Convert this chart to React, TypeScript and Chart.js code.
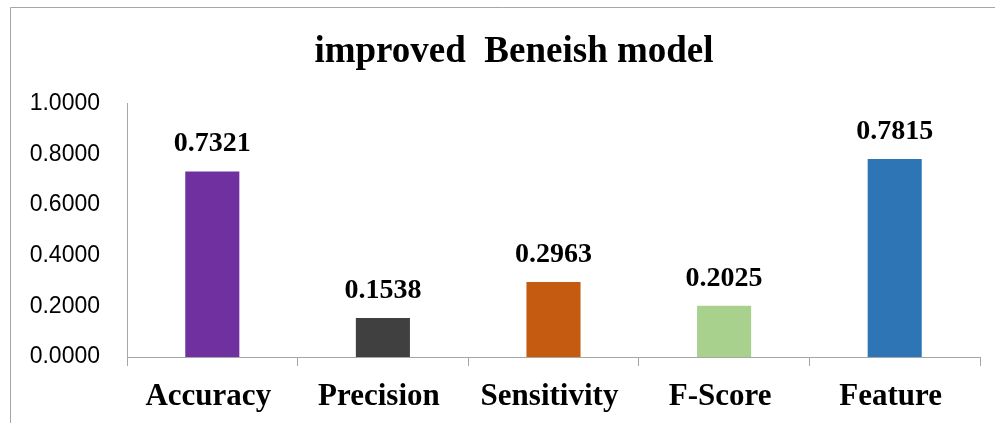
import React, { useEffect, useRef } from "react";
import { Chart, registerables } from "chart.js";

Chart.register(...registerables);

const categories = ["Accuracy", "Precision", "Sensitivity", "F-Score", "Feature"];
const values = [0.7321, 0.1538, 0.2963, 0.2025, 0.7815];
const barColors = ["#7030A0", "#404040", "#C55A11", "#A9D18E", "#2E75B6"];
const titleText = "improved  Beneish model";
const yTickMin = 0;
const yTickMax = 1;
const yTickStep = 0.2;

const SERIF = "'Liberation Serif', 'Times New Roman', serif";
const SANS = "'Liberation Sans', Arial, sans-serif";
const GRAY = "#A6A6A6";

const framePlugin = {
  id: "frame",
  beforeDraw(chart: any) {
    const ctx = chart.ctx;
    ctx.save();
    ctx.fillStyle = "#ffffff";
    ctx.fillRect(0, 0, chart.width, chart.height);
    ctx.strokeStyle = GRAY;
    ctx.lineWidth = 1;
    ctx.beginPath();
    ctx.moveTo(10.5, chart.height);
    ctx.lineTo(10.5, 7.5);
    ctx.lineTo(chart.width, 7.5);
    ctx.stroke();
    ctx.fillStyle = "#000";
    ctx.font = `bold 37px ${SERIF}`;
    ctx.textAlign = "center";
    ctx.textBaseline = "alphabetic";
    ctx.fillText(titleText, 514, 62);
    ctx.restore();
  },
};

const labelPlugin = {
  id: "valueLabels",
  afterDatasetsDraw(chart: any) {
    const ctx = chart.ctx;
    const meta = chart.getDatasetMeta(0);
    ctx.save();
    ctx.fillStyle = "#000";
    ctx.font = `bold 28px ${SERIF}`;
    ctx.textAlign = "center";
    ctx.textBaseline = "alphabetic";
    meta.data.forEach((bar: any, i: number) => {
      ctx.fillText(values[i].toFixed(4), bar.x, bar.y - 20);
    });
    ctx.restore();
  },
};

export default function App() {
  const ref = useRef<HTMLCanvasElement | null>(null);
  useEffect(() => {
    document.body.style.margin = "0";
    const chart = new Chart(ref.current as HTMLCanvasElement, {
      type: "bar",
      data: {
        labels: categories,
        datasets: [
          {
            data: values,
            backgroundColor: barColors,
            categoryPercentage: 1,
            barPercentage: 0.317,
          },
        ],
      },
      options: {
        animation: false,
        responsive: false,
        maintainAspectRatio: false,
        layout: { padding: { top: 103.5, right: 15, bottom: 0, left: 0 } },
        plugins: {
          legend: { display: false },
          tooltip: { enabled: false },
          title: { display: false },
        },
        scales: {
          x: {
            afterFit: (s: any) => {
              s.height = 66;
            },
            grid: {
              offset: true,
              drawOnChartArea: false,
              drawTicks: true,
              tickLength: 9,
              color: GRAY,
            },
            border: { display: true, color: GRAY },
            ticks: {
              color: "#000",
              padding: 12,
              labelOffset: -4,
              font: { family: SERIF, size: 31, weight: "bold" },
            },
          },
          y: {
            min: yTickMin,
            max: yTickMax,
            afterFit: (s: any) => {
              s.width = 127;
            },
            grid: { display: false, drawTicks: false },
            border: { display: true, color: GRAY },
            ticks: {
              stepSize: yTickStep,
              color: "#000",
              padding: 27,
              font: { family: SANS, size: 23 },
              callback: (v: any) => Number(v).toFixed(4),
            },
          },
        },
      },
      plugins: [framePlugin, labelPlugin],
    } as any);
    return () => chart.destroy();
  }, []);
  return (
    <div style={{ width: 995, height: 423 }}>
      <canvas ref={ref} width={995} height={423} style={{ display: "block" }} />
    </div>
  );
}
